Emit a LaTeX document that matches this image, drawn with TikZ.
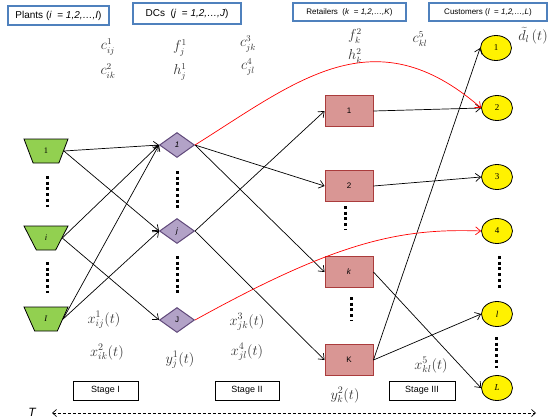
\documentclass[tikz,border=0pt]{standalone}
\usepackage{fontspec}
\setmainfont{Liberation Serif}
\setsansfont{Liberation Sans}
\usetikzlibrary{shapes.geometric,arrows.meta}
\definecolor{plantgreen}{RGB}{146,208,80}
\definecolor{dcfill}{RGB}{178,162,199}
\definecolor{dcline}{RGB}{96,73,122}
\definecolor{retfill}{RGB}{217,150,148}
\definecolor{retline}{RGB}{170,60,60}
\definecolor{headblue}{RGB}{79,129,189}
\begin{document}
\begin{tikzpicture}[x=1pt,y=-1pt,
  every node/.style={inner sep=0pt},
  plant/.style={trapezium, trapezium angle=75, shape border rotate=180, trapezium stretches=true, minimum width=44pt, minimum height=24pt, fill=plantgreen, draw=black, line width=0.8pt, font=\fontsize{8.5}{9}\selectfont},
  dc/.style={diamond, minimum width=35pt, minimum height=25pt, fill=dcfill, draw=dcline, line width=1pt, font=\sffamily\fontsize{8}{9}\selectfont},
  ret/.style={rectangle, minimum width=48pt, minimum height=31pt, fill=retfill, draw=retline, line width=0.9pt, font=\sffamily\fontsize{8}{9}\selectfont},
  cust/.style={ellipse, minimum width=31pt, minimum height=25pt, fill=yellow, draw=black, line width=0.8pt, font=\fontsize{9}{10}\selectfont},
  head/.style={rectangle, draw=headblue, line width=1.6pt, fill=white, font=\sffamily\fontsize{10}{11}\selectfont},
  stage/.style={rectangle, draw=black, line width=0.8pt, minimum height=19pt, font=\sffamily\fontsize{9}{10}\selectfont},
  lab/.style={font=\fontsize{14}{16}\selectfont, text=black!80},
  clab/.style={font=\fontsize{13.5}{15}\selectfont, text=black!80},
  arr/.style={-{Straight Barb[length=5pt,width=8pt]}, line width=0.7pt},
  redarr/.style={arr, draw=red},
  vdots/.style={line width=3pt, dash pattern=on 3pt off 2.7pt},
]
\useasboundingbox (0,0) rectangle (553,418);

% header boxes
\node[head, minimum width=101pt, minimum height=19pt] (hp) at (58.5,15.5) {Plants (\textit{i}\ \ = \textit{1,2,\ldots,I})};
\node[head, minimum width=108pt, minimum height=21pt] (hd) at (187,13.5) {DCs\ \ (\textit{j}\ \ = \textit{1,2,\ldots,J})};
\node[head, minimum width=113pt, minimum height=18pt, font=\sffamily\fontsize{8}{9}\selectfont] (hr) at (349.5,12) {Retailers\ \ (\textit{k}\ \ = \textit{1,2,\ldots,K})};
\node[head, minimum width=118pt, minimum height=18pt, font=\sffamily\fontsize{8}{9}\selectfont] (hc) at (488,12) {Customers (\textit{l}\ \ = \textit{1,2,\ldots,L})};

% cost labels
\node[clab] (c1l) at (108,47) {$c^{1}_{ij}$};
\node[clab] (c2l) at (108,71) {$c^{2}_{ik}$};
\node[clab] (f1l) at (180,48) {$f^{1}_{j}$};
\node[clab] (h1l) at (180,72) {$h^{1}_{j}$};
\node[clab] (c3l) at (248,44) {$c^{3}_{jk}$};
\node[clab] (c4l) at (248,67) {$c^{4}_{jl}$};
\node[clab] (f2l) at (355,36) {$f^{2}_{k}$};
\node[clab] (h2l) at (355,56) {$h^{2}_{k}$};
\node[clab] (c5l) at (420,39) {$c^{5}_{kl}$};
\node[lab] (dl) at (533,36) {$\widetilde{d}_{l}\,(t)$};

% plants
\node[plant] (p1) at (46,151) {1};
\node[plant] (pi) at (46,238) {\textit{i}};
\node[plant] (pI) at (46,319) {\textit{I}};
% DCs
\node[dc] (d1) at (177,145) {\textit{1}};
\node[dc] (dj) at (177,231) {\textit{j}};
\node[dc] (dJ) at (177,320) {J};
% retailers
\node[ret] (r1) at (349,111) {1};
\node[ret] (r2) at (349,186) {2};
\node[ret] (rk) at (349,272) {\textit{k}};
\node[ret] (rK) at (349,360) {K};
% customers
\node[cust] (u1) at (496,48) {1};
\node[cust] (u2) at (497,108) {2};
\node[cust] (u3) at (497,177) {3};
\node[cust] (u4) at (497,231) {4};
\node[cust] (ul) at (497,314) {\textit{l}};
\node[cust] (uL) at (497,388) {\textit{L}};

% dots
\draw[vdots] (47,176) -- (47,207);
\draw[vdots] (47,262) -- (47,293);
\draw[vdots] (177,171) -- (177,208);
\draw[vdots] (177,256) -- (177,293);
\draw[vdots] (345,206) -- (345,229);
\draw[vdots] (351,297) -- (351,320);
\draw[vdots] (499,256) -- (499,288);
\draw[vdots] (496,337) -- (496,368);

% stage I arrows
\draw[arr] (p1.east) -- (d1.west);
\draw[arr] (p1.east) -- (dj.west);
\draw[arr] (pi.east) -- (d1.west);
\draw[arr] (pi.east) -- (dJ.west);
\draw[arr] (pI.east) -- (d1.west);
\draw[arr] (pI.east) -- (dj.west);
% stage II arrows
\draw[arr] (d1.east) -- (r2.west);
\draw[arr] (d1.east) -- (rk.west);
\draw[arr] (dj.east) -- (r1.west);
\draw[arr] (dj.east) -- (rK.west);
% stage III arrows
\draw[arr] (r1.east) -- (u2.west);
\draw[arr] (r2.east) -- (u3.west);
\draw[arr] (rK.east) -- (u1.west);
\draw[arr] (rK.east) -- (ul.west);
\draw[arr] (rk.east) -- (uL.west);
% red direct shipments
\draw[redarr] (d1.east) .. controls +(102,-64) and +(-107,-93) .. (u2.west);
\draw[redarr] (dJ.east) .. controls +(141,-78) and +(-82,-3) .. (u4.west);

% flow labels
\node[lab] (x1l) at (104,320) {$x^{1}_{ij}(t)$};
\node[lab] (x2l) at (107,352) {$x^{2}_{ik}(t)$};
\node[lab] (y1l) at (180,360) {$y^{1}_{j}(t)$};
\node[lab] (x3l) at (247,322) {$x^{3}_{jk}(t)$};
\node[lab] (x4l) at (247,352) {$x^{4}_{jl}(t)$};
\node[lab] (y2l) at (345,395) {$y^{2}_{k}(t)$};
\node[lab] (x5l) at (431,365) {$x^{5}_{kl}(t)$};

% stage boxes
\node[stage, minimum width=65pt] (s1) at (105.5,390.5) {Stage I};
\node[stage, minimum width=64pt] (s2) at (247,390.5) {Stage II};
\node[stage, minimum width=66pt] (s3) at (422,390.5) {Stage III};

% time axis
\node[font=\sffamily\itshape\fontsize{12}{14}\selectfont] (T) at (32,412) {T};
\coordinate (tl) at (52,413);
\coordinate (tr) at (536,413);
\draw[line width=0.7pt, dash pattern=on 3pt off 2pt, {Straight Barb[length=4pt,width=7pt]}-{Straight Barb[length=4pt,width=7pt]}] (tl) -- (tr);
\end{tikzpicture}
\end{document}
